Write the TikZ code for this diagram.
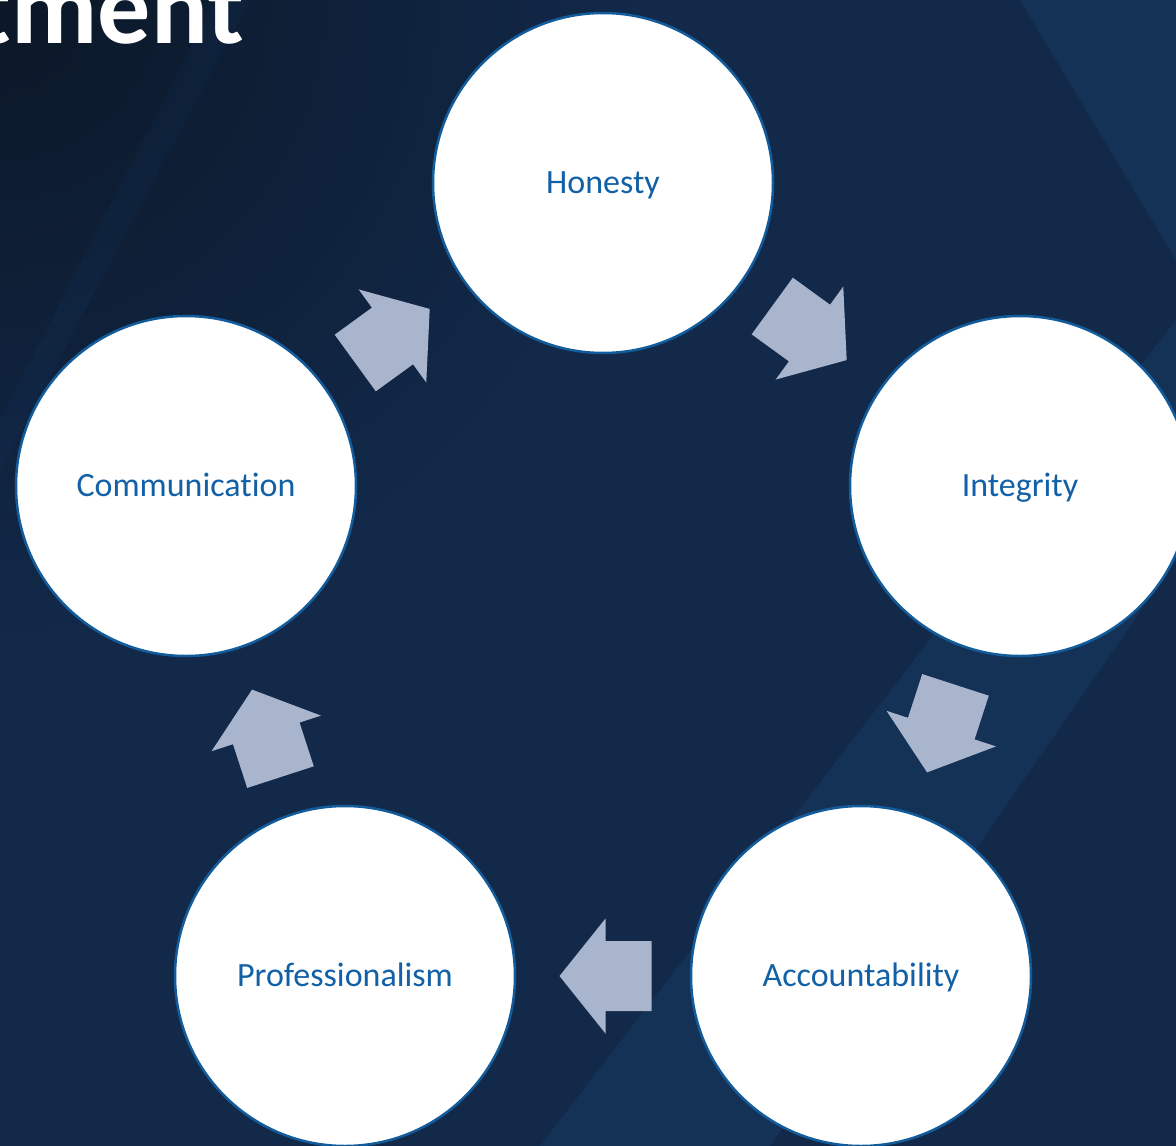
\documentclass[tikz,border=0pt]{standalone}
\usepackage{fontspec}
\setmainfont{Carlito}[Ligatures=NoCommon]
\usetikzlibrary{calc}
\definecolor{bgdark}{HTML}{0B1727}
\definecolor{bgnavy}{HTML}{12294A}
\definecolor{bglight}{HTML}{173C66}
\definecolor{ringblue}{HTML}{125C9C}
\definecolor{textblue}{HTML}{1260A6}
\definecolor{arrowfill}{HTML}{A9B5CD}
\tikzset{
  value/.style={circle, fill=white, draw=ringblue, line width=2.5pt,
    minimum size=340pt, inner sep=0pt, text=textblue,
    font=\fontsize{34}{40}\selectfont, text height=24pt, text depth=4pt},
  heading/.style={text=white, inner sep=0pt, anchor=base east,
    font=\fontsize{106}{110}\selectfont\bfseries},
  blockarrow/.pic={
    \fill[arrowfill] (-48.5,-35) -- (-2.5,-35) -- (-2.5,-57.5) -- (43.5,0)
      -- (-2.5,57.5) -- (-2.5,35) -- (-48.5,35) -- cycle;
  }
}

\begin{document}
\begin{tikzpicture}[x=1pt,y=-1pt]
  % page frame, in pixels from the top left corner
  \useasboundingbox (0,0) rectangle (1176,1146);
  \clip (0,0) rectangle (1176,1146);

  % background: dark navy, darker to the top left
  \fill[bgnavy] (0,0) rectangle (1176,1146);
  \shade[inner color=bgdark, outer color=bgnavy] (0,0) circle (650);
  % lighter diagonal streaks
  \fill[bglight, opacity=0.45] (540,1146) -- (770,1146) -- (1176,560)
    -- (1176,320) -- cycle;
  \fill[bglight, opacity=0.45] (1020,0) -- (1176,0) -- (1176,260) -- cycle;
  \fill[bglight, opacity=0.15] (0,420) -- (0,470) -- (250,0) -- (215,0) -- cycle;

  % heading, cut off at the left edge
  \node[heading] (ttl) at (244,43) {tment};

  % the five values round the cycle
  \node[value] (hon) at (603,183) {Honesty};
  \node[value] (int) at (1020,486) {Integrity};
  \node[value] (acc) at (861,976) {Accountability};
  \node[value] (pro) at (345,976) {Professionalism};
  \node[value] (com) at (186,486) {Communication};

  % block arrows half way between neighbours, turning clockwise
  \pic[rotate=-36] at ($(hon)!0.5!(int)$) {blockarrow};
  \pic[rotate=-108] at ($(int)!0.5!(acc)$) {blockarrow};
  \pic[rotate=180] at ($(acc)!0.5!(pro)$) {blockarrow};
  \pic[rotate=108] at ($(pro)!0.5!(com)$) {blockarrow};
  \pic[rotate=36] at ($(com)!0.5!(hon)$) {blockarrow};
\end{tikzpicture}
\end{document}
